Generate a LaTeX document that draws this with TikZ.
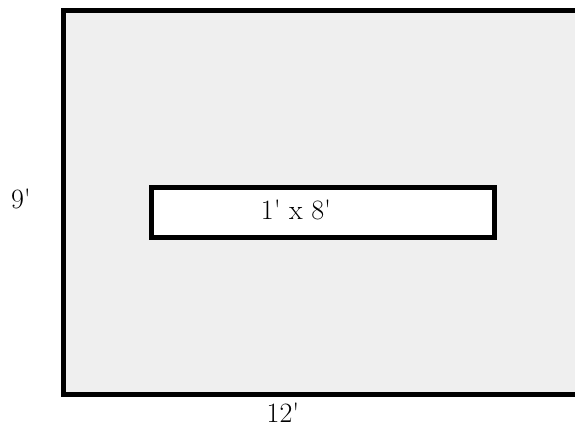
\documentclass[tikz,border=0pt]{standalone}
\usepackage{tikz}
\usetikzlibrary{positioning}
\definecolor{floorgray}{RGB}{239,239,239}
\newcommand{\ft}{\textquotesingle}
\tikzset{
  dimlabel/.style={font=\fontsize{28}{32}\selectfont,inner sep=0pt},
  wall/.style={draw=black,line width=5pt}
}

\begin{document}
\begin{tikzpicture}[x=1pt,y=-1pt]
\useasboundingbox (0,0) rectangle (575,428);

% room (runs off the right edge)
\begin{scope}
\clip (0,0) rectangle (575,428);
\filldraw[wall,fill=floorgray] (63,11) rectangle (592,394);
\end{scope}

% rug in the middle
\filldraw[wall,fill=white] (151,187) rectangle (494,237);

% dimensions
\node[dimlabel] (height) at (21,199) {9\ft};
\node[dimlabel] (width) at (283,413) {12\ft};
\node[dimlabel] (rug) at (296,210) {1\ft{} x 8\ft};
\end{tikzpicture}
\end{document}
